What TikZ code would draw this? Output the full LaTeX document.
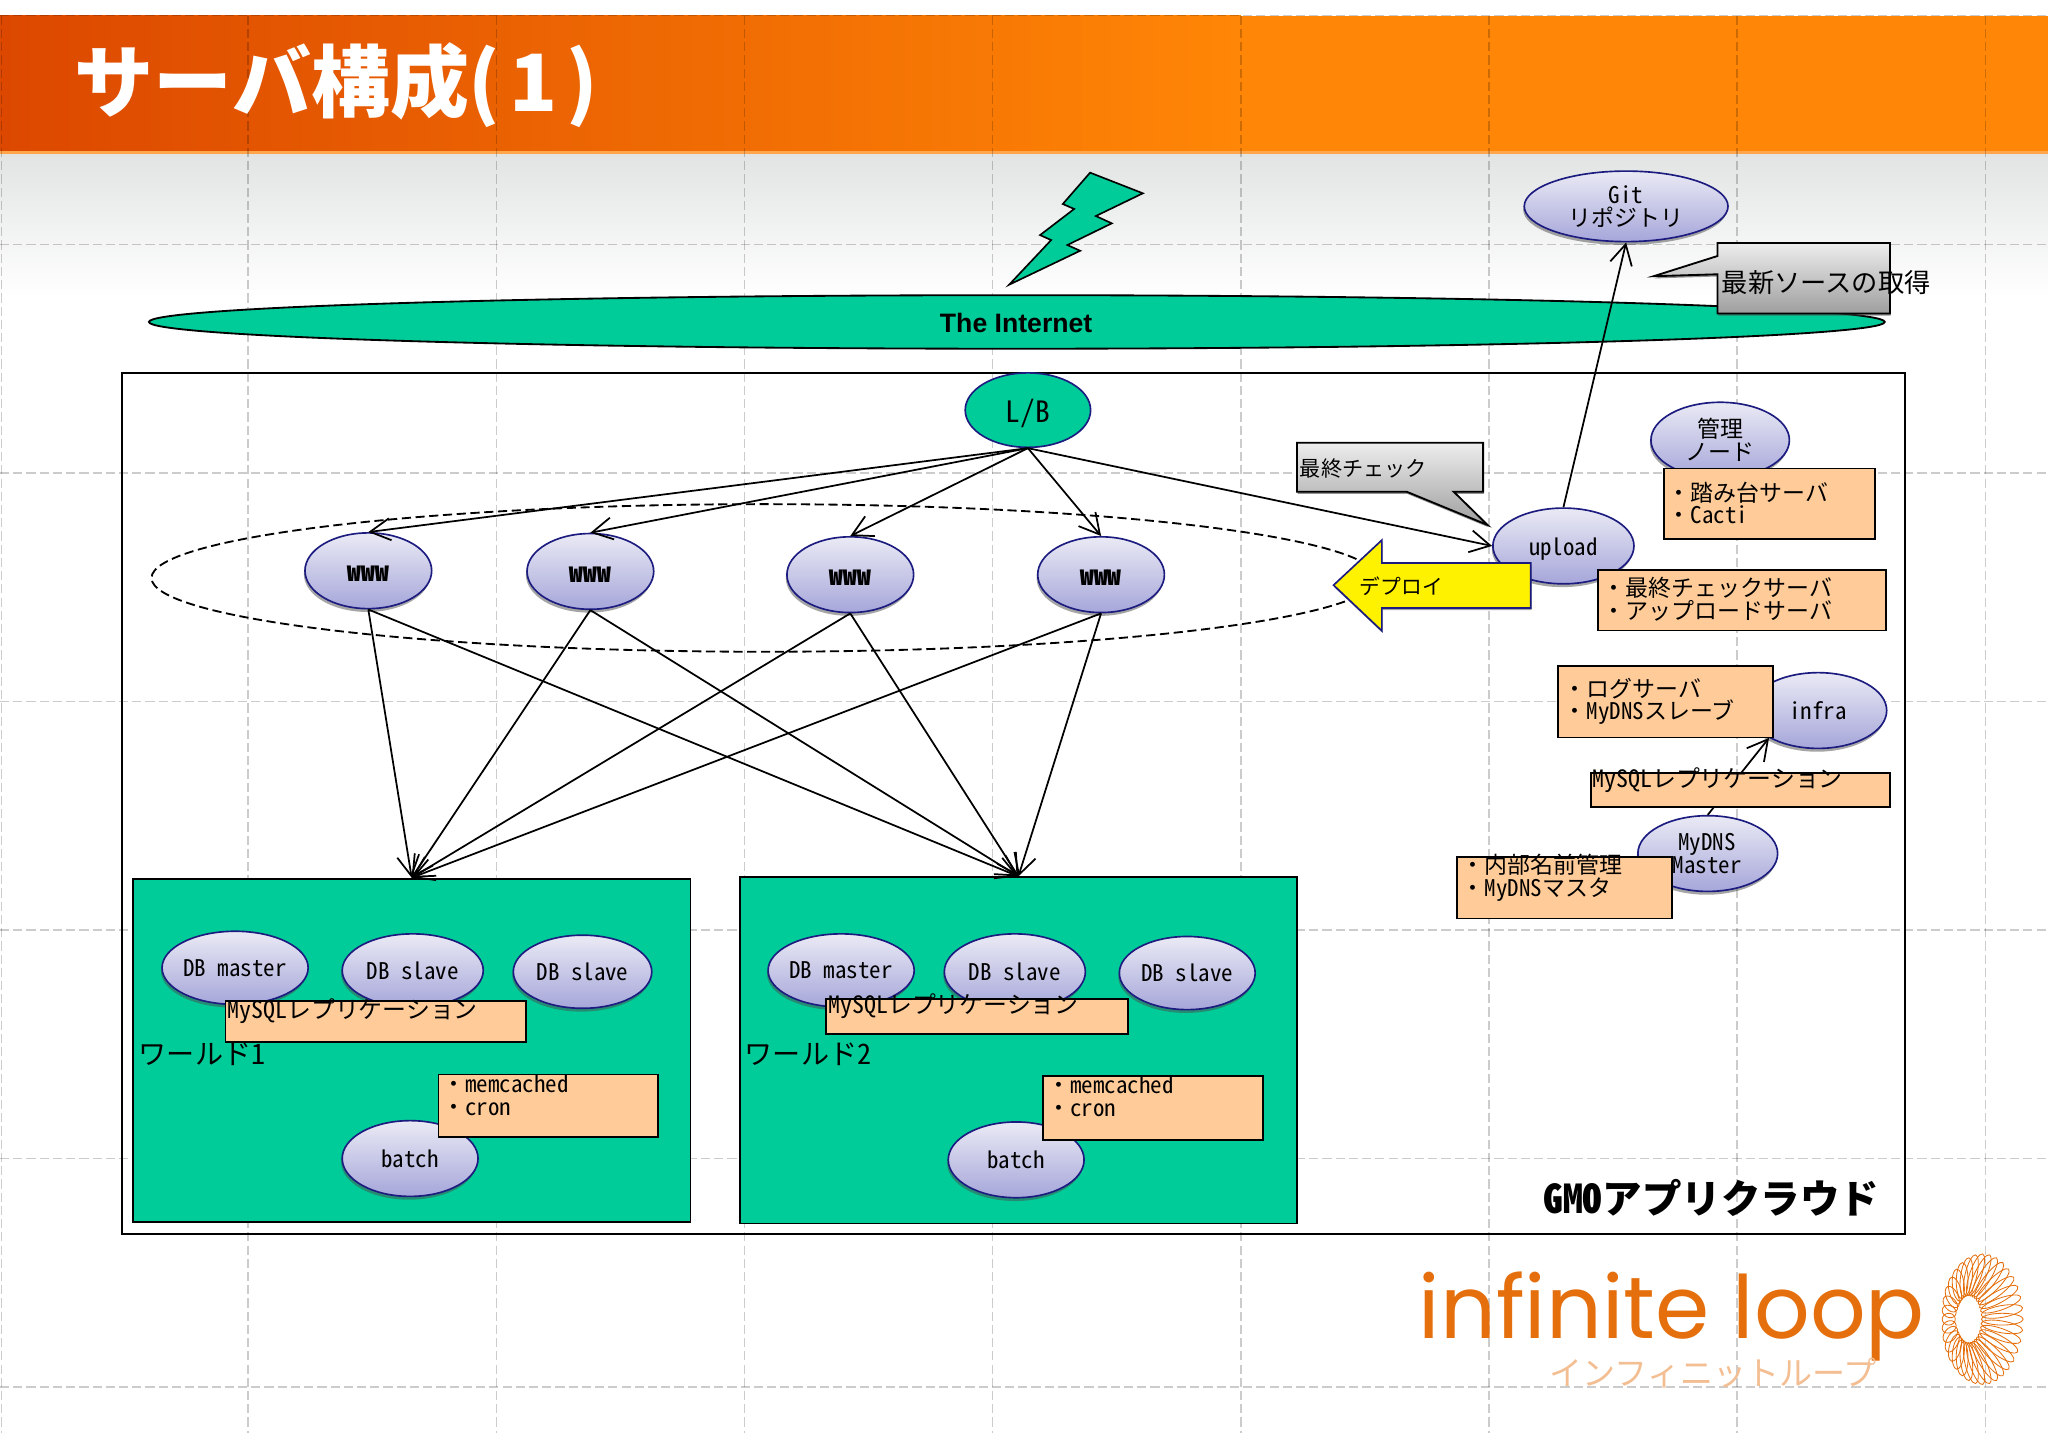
\documentclass[tikz,border=0pt]{standalone}
\usepackage{fontspec}
\usetikzlibrary{arrows.meta, shapes.geometric, shadows}
\setmainfont{Noto Sans CJK JP}
\newfontfamily\hwfont[RawFeature=+hwid]{Noto Sans CJK JP}
\newfontfamily\armfont{Liberation Sans}
\newfontfamily\logofont{Poppins}
\newcommand{\hw}[1]{{\hwfont #1}}
\newcommand{\lowtext}[1]{\raisebox{-1.6pt}[\height][\depth]{\hw{#1}}}
\def\uu{0.025cm}
\definecolor{teal1}{HTML}{00CC99}
\definecolor{navyline}{HTML}{1C1C80}
\definecolor{peach}{HTML}{FFCC99}
\definecolor{logoorange}{HTML}{E56F0C}
\definecolor{srvtop}{HTML}{EAEAF5}
\definecolor{srvbottom}{HTML}{A6A6DA}
\definecolor{headleft}{HTML}{DC4800}
\definecolor{headright}{HTML}{FF8606}
\definecolor{paletop}{HTML}{E2E4E4}
\tikzset{
    srv/.style={ellipse, draw=navyline, line width=0.9pt, inner sep=0pt, align=center,
        top color=srvtop, bottom color=srvbottom,
        minimum width=108*\uu, minimum height=58*\uu, font=\fontsize{12.5}{12.5}\selectfont,
        drop shadow={shadow xshift=-0.6pt, shadow yshift=-1.8pt, fill=black!70, opacity=0.5}},
    wwwsrv/.style={srv, minimum width=97*\uu, minimum height=58*\uu, font=\fontsize{14.8}{14.8}\bfseries\selectfont},
    infobox/.style={draw=black, line width=1pt, fill=peach, inner sep=0pt, anchor=north west},
    boxtext/.style={anchor=west, inner sep=0pt, align=left, font=\fontsize{12.5}{12.3}\selectfont},
    world/.style={draw=black, line width=1pt, fill=teal1, inner sep=0pt, anchor=north west},
    arr/.style={-{Straight Barb[length=11pt,width=12pt]}, line width=0.95pt, black},
    gridline/.style={black, opacity=0.2, line width=0.8pt, dash pattern=on 5pt off 2.2pt},
    callout/.style={draw=black, line width=1pt, top color=black!7, bottom color=black!38,
        drop shadow={shadow xshift=0.4pt, shadow yshift=-1.2pt, fill=black!70, opacity=0.6}},
}
\begin{document}
\begin{tikzpicture}[x=\uu, y=-\uu]
\useasboundingbox (0,0) rectangle (1568,1108);
\fill[white] (0,0) rectangle (1568,1108);

% Page background
\shade[top color=paletop, bottom color=white] (0,118) rectangle (1568,228);
\shade[left color=headleft, right color=headright] (0,12) rectangle (950,116);
\fill[headright] (950,12) rectangle (1568,116);
\fill[orange!70!white] (0,115.5) rectangle (1568,118);

% Grid
\foreach \gx in {1,190,380,570,760,950,1140,1330,1520}
    \draw[gridline] (\gx,12) -- (\gx,1097);
\foreach \gy in {12,187,362,537,712,887,1062}
    \draw[gridline] (0,\gy) -- (1568,\gy);

% Title
\node (title) [anchor=west, inner sep=0pt, text=white, font=\fontsize{43}{43}\bfseries\selectfont] at (57,65) {サーバ構成(\kern5pt 1\kern5pt)};

% Internet
\draw[line width=0.9pt, fill=teal1] (834.6,132.2) -- (875,148) -- (839,165.4) -- (851.2,171) -- (817.2,187.6) -- (827,192) -- (772.6,218) -- (804.8,183.8) -- (796.3,180) -- (822.4,160) -- (813.7,156.2) -- cycle;
\node (internet) [ellipse, draw=black, line width=1pt, fill=teal1, inner sep=0pt, minimum width=1329*\uu, minimum height=41*\uu] at (778.5,246.5) {};
\node (internettext) [inner sep=0pt, font=\armfont\bfseries\fontsize{14.5}{14.5}\selectfont] at (778,247) {The Internet};
\node (git) [srv, minimum width=156*\uu, minimum height=54*\uu] at (1245,158) {\hw{Git}\\リポジトリ};

% Callout
\draw[callout] (1315,186) -- (1447,186) -- (1447,240) -- (1315,240) -- (1315,210) -- (1266,211.5) -- (1315,196) -- cycle;
\node (sourcetext) [boxtext, font=\fontsize{14.3}{14.3}\selectfont] at (1318,216) {最新ソースの取得};

% GMO
\node (cloud) [draw=black, line width=1pt, inner sep=0pt, anchor=north west, minimum width=1365*\uu, minimum height=659*\uu] at (93,285) {};
\node (cloudtext) [anchor=east, inner sep=0pt, font=\fontsize{21.5}{21.5}\bfseries\selectfont] at (1439,917) {\hw{GMO}アプリクラウド};
\draw[dashed, line width=1pt, dash pattern=on 5pt off 2.5pt] (585,442.5) ellipse [x radius=469, y radius=56.5];

% L/B and www
\node (lb) [ellipse, draw=navyline, line width=0.9pt, fill=teal1, inner sep=0pt, minimum width=96*\uu, minimum height=57*\uu, font=\fontsize{16}{16}\selectfont] at (787,314) {\lowtext{L/B}};
\node (www1) [wwwsrv] at (282,437) {\lowtext{www}};
\node (www2) [wwwsrv] at (452,437.5) {\lowtext{www}};
\node (www3) [wwwsrv] at (651,440) {\lowtext{www}};
\node (www4) [wwwsrv] at (843,440) {\lowtext{www}};

% World 1
\node (world1) [world, minimum width=427*\uu, minimum height=263*\uu] at (101,672) {};
\node (master1) [srv, minimum width=110*\uu, minimum height=56*\uu] at (180,741) {\hw{DB master}};
\node (slave1a) [srv, minimum height=56*\uu] at (316,743) {\hw{DB slave}};
\node (slave1b) [srv, minimum width=106*\uu, minimum height=56*\uu] at (446,744) {\hw{DB slave}};
\node (batch1) [srv, minimum width=104*\uu] at (314,887) {\hw{batch}};
\node (repl1) [infobox, minimum width=230*\uu, minimum height=31*\uu] at (172,766) {};
\node (repl1text) [boxtext, font=\fontsize{13}{13}\selectfont] at (174,774) {\hw{MySQL}レプリケーション};
\node (name1) [boxtext, font=\fontsize{15.3}{15.3}\selectfont] at (106,807) {ワールド\hw{1}};
\node (job1) [infobox, minimum width=168*\uu, minimum height=48*\uu] at (335,822) {};
\node (job1text) [boxtext] at (338.5,838.5) {\hw{・memcached}\\\hw{・cron}};

% World 2
\node (world2) [world, minimum width=426*\uu, minimum height=265*\uu] at (566,671) {};
\node (master2) [srv, minimum width=110*\uu, minimum height=56*\uu] at (644,743) {\hw{DB master}};
\node (slave2a) [srv, minimum height=58*\uu] at (777,744) {\hw{DB slave}};
\node (slave2b) [srv, minimum width=104*\uu, minimum height=56*\uu] at (909,745) {\hw{DB slave}};
\node (batch2) [srv, minimum width=104*\uu] at (778,888) {\hw{batch}};
\node (repl2) [infobox, minimum width=231*\uu, minimum height=27*\uu] at (632,764) {};
\node (repl2text) [boxtext, font=\fontsize{13}{13}\selectfont] at (634,770) {\hw{MySQL}レプリケーション};
\node (name2) [boxtext, font=\fontsize{15.3}{15.3}\selectfont] at (570,807) {ワールド\hw{2}};
\node (job2) [infobox, minimum width=168*\uu, minimum height=49*\uu] at (798,823) {};
\node (job2text) [boxtext] at (801.5,839.5) {\hw{・memcached}\\\hw{・cron}};

% Right side servers
\node (upload) [srv] at (1197,418) {\lowtext{upload}};
\node (admin) [srv, minimum width=106*\uu] at (1317,337) {管理\\ノード};
\node (adminbox) [infobox, minimum width=162*\uu, minimum height=54*\uu] at (1273,358) {};
\node (admintext) [boxtext] at (1276.5,385) {・踏み台サーバ\\・\hw{Cacti}};
\node (uploadbox) [infobox, minimum width=220*\uu, minimum height=46*\uu] at (1223,436) {};
\node (uploadtext) [boxtext] at (1227,459) {・最終チェックサーバ\\・アップロードサーバ};
\node (infra) [srv, minimum width=105*\uu] at (1392,544) {\hw{infra}};
\node (logbox) [infobox, minimum width=165*\uu, minimum height=55*\uu] at (1192,509) {};
\node (logtext) [boxtext] at (1197,537) {・ログサーバ\\・\hw{MyDNS}スレーブ};
\node (mydns) [srv, minimum width=107*\uu] at (1307.5,653.5) {};

% Connections
\foreach \top in {www1,www2,www3,www4}
    \draw[arr] (lb.south) -- (\top.north);
\draw[arr] (lb.south) -- (upload.west);
\draw[arr] (upload.north) -- (git.south);
\foreach \top in {www1,www2,www3,www4} {
    \draw[arr] (\top.south) -- (world1.north);
    \draw[arr] (\top.south) -- (world2.north);
}
\draw[arr] (mydns.north) -- (infra.south west);

% Boxes above the connections
\node (replbox) [infobox, minimum width=228.5*\uu, minimum height=26*\uu] at (1217.5,591) {};
\node (repltext) [boxtext, font=\fontsize{13}{13}\selectfont] at (1219,597) {\hw{MySQL}レプリケーション};
\node (dnsbox) [infobox, minimum width=165*\uu, minimum height=47*\uu] at (1114.5,655.5) {};
\node (dnsboxtext) [boxtext] at (1119,672) {・内部名前管理\\・\hw{MyDNS}マスタ};
\node (mydnstext) [inner sep=0pt, align=center, font=\fontsize{12.5}{12.3}\selectfont] at (1307,653.5) {\hw{MyDNS}\\\hw{Master}};

% Deploy arrow
\draw[line width=0.9pt, draw=navyline, fill=yellow, drop shadow={shadow xshift=0.4pt, shadow yshift=-1.2pt, fill=black!70, opacity=0.5}] (1021,448) -- (1058,413.5) -- (1058,431) -- (1172,431) -- (1172,465.5) -- (1058,465.5) -- (1058,483) -- cycle;
\node (deploy) [inner sep=0pt, font=\fontsize{11.3}{11.3}\selectfont] at (1073,449) {デプロイ};

% Check callout
\draw[callout] (993,339) -- (1135.5,339) -- (1135.5,376.5) -- (1113,376.5) -- (1139,402) -- (1077,376.5) -- (993,376.5) -- cycle;
\node (checktext) [boxtext, font=\fontsize{11.5}{11.5}\selectfont] at (995,359) {最終チェック};

% Logo
\node (logoname) [anchor=base west, inner sep=0pt, text=logoorange, font=\logofont\fontsize{47.5}{47.5}\selectfont] at (1086,1025) {infinite loop};
\node (logokana) [inner sep=0pt, text=logoorange!45!white, font=\fontsize{18}{18}\selectfont] at (1311.5,1051) {インフィニットループ};
\foreach \ang in {0,10,...,350} {
    \pgfmathsetmacro{\ix}{1507+10*cos(\ang)}
    \pgfmathsetmacro{\iy}{1010+18*sin(\ang)}
    \pgfmathsetmacro{\ox}{1518+31*cos(\ang)}
    \pgfmathsetmacro{\oy}{1010+50*sin(\ang)}
    \pgfmathsetmacro{\mx}{(\ix+\ox)/2}
    \pgfmathsetmacro{\my}{(\iy+\oy)/2}
    \pgfmathsetmacro{\rlen}{veclen(\ox-\ix,\oy-\iy)/2}
    \pgfmathsetmacro{\rang}{atan2(\iy-\oy,\ox-\ix)}
    \draw[logoorange, line width=0.45pt] (\mx,\my) ellipse [x radius=\rlen*0.7113pt, y radius=4.5*0.7113pt, rotate=\rang];
}
\end{tikzpicture}
\end{document}
